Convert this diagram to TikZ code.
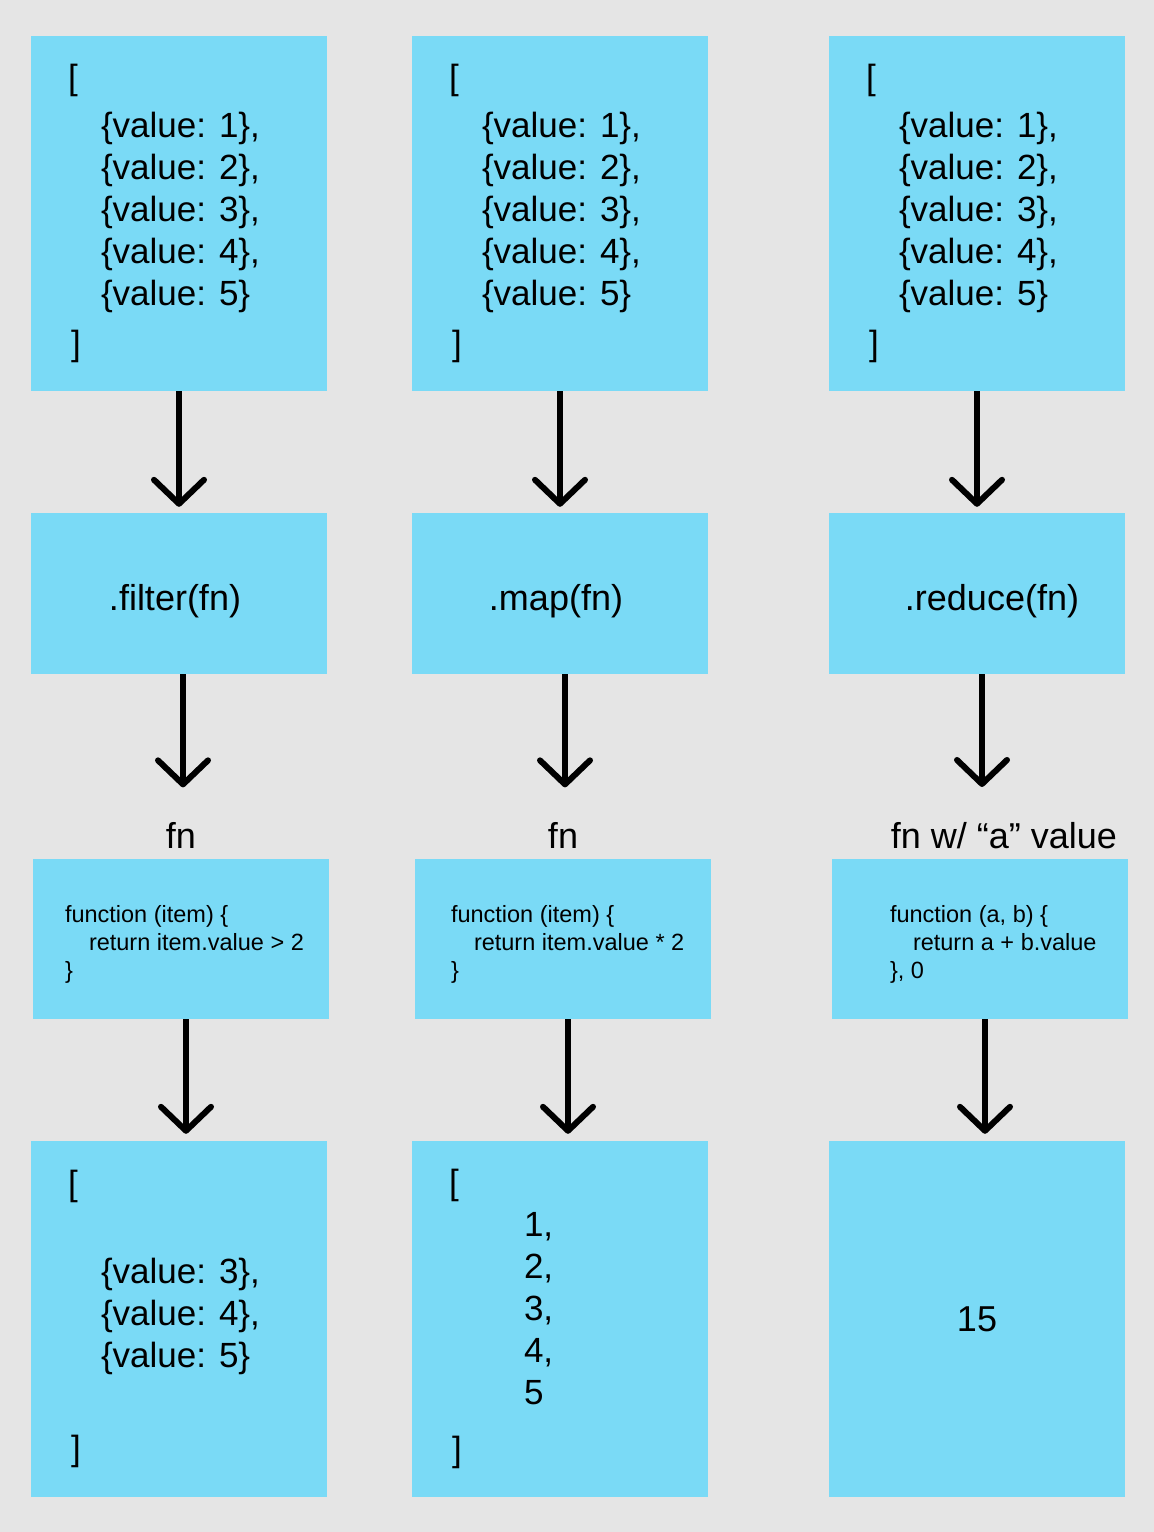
\documentclass[tikz,border=0pt]{standalone}
\usepackage{fontspec}
\setmainfont{Liberation Sans}
\usetikzlibrary{positioning,arrows.meta}

\definecolor{cyanbox}{RGB}{122,218,246}
\definecolor{bggray}{RGB}{229,229,229}

\newcommand{\bigtxt}{\fontsize{35}{42}\selectfont}
\newcommand{\labeltxt}{\fontsize{36}{42}\selectfont}
\newcommand{\codetxt}{\fontsize{23.5}{28}\selectfont}

\tikzset{
  box/.style={fill=cyanbox, minimum width=296pt, inner sep=0pt},
  listtext/.style={inner sep=0pt, align=left, font=\bigtxt},
  codetext/.style={inner sep=0pt, align=left, font=\codetxt},
  arr/.style={line width=6pt, -{Straight Barb[length=24pt,width=50pt,round]}},
}

\begin{document}
\begin{tikzpicture}[x=1pt, y=-1pt]
  \fill[bggray] (0,0) rectangle (1154,1532);
  \useasboundingbox (0,0) rectangle (1154,1532);

  % input arrays
  \node[box, minimum height=355pt] (in1) at (179,213.5) {};
  \node[box, minimum height=355pt] (in2) at (560,213.5) {};
  \node[box, minimum height=355pt] (in3) at (977,213.5) {};
  \foreach \i in {1,2,3}
    \node[listtext, right=37pt of in\i.west] (list\i) {[\\[6pt]
      \hspace*{33pt}\{value: 1\},\\
      \hspace*{33pt}\{value: 2\},\\
      \hspace*{33pt}\{value: 3\},\\
      \hspace*{33pt}\{value: 4\},\\
      \hspace*{33pt}\{value: 5\}\\[8pt]
      \hspace*{3pt}]};

  % array methods
  \node[box, minimum height=161pt, font=\labeltxt] (m1) at (179,593.5) {\raisebox{-17pt}[0pt][0pt]{.filter(fn)}\hspace*{8pt}};
  \node[box, minimum height=161pt, font=\labeltxt] (m2) at (560,593.5) {\raisebox{-17pt}[0pt][0pt]{.map(fn)}\hspace*{8pt}};
  \node[box, minimum height=161pt, font=\labeltxt] (m3) at (977,593.5) {\hspace*{30pt}\raisebox{-17pt}[0pt][0pt]{.reduce(fn)}};

  % callbacks
  \node[box, minimum height=160pt] (c1) at (181,939) {};
  \node[box, minimum height=160pt] (c2) at (563,939) {};
  \node[box, minimum height=160pt] (c3) at (980,939) {};
  \node[codetext, right=32pt of c1.west, yshift=-5pt] (code1) {function (item) \{\\
    \hspace*{24pt}return item.value > 2\\
    \}};
  \node[codetext, right=36pt of c2.west, yshift=-5pt] (code2) {function (item) \{\\
    \hspace*{23pt}return item.value * 2\\
    \}};
  \node[codetext, right=58pt of c3.west, yshift=-5pt] (code3) {function (a, b) \{\\
    \hspace*{23pt}return a + b.value\\
    \}, 0};
  \node[inner sep=0pt, font=\labeltxt, above=10pt of c1] (lbl1) {fn};
  \node[inner sep=0pt, font=\labeltxt, above=10pt of c2] (lbl2) {fn};
  \node[inner sep=0pt, font=\labeltxt, above=10pt of c3, xshift=24pt] (lbl3) {fn w/ “a” value};

  % results
  \node[box, minimum height=356pt] (out1) at (179,1319) {};
  \node[box, minimum height=356pt] (out2) at (560,1319) {};
  \node[box, minimum height=356pt, font=\labeltxt] (out3) at (977,1319) {15};
  \node[listtext, right=37pt of out1.west] (res1) {[\\[46pt]
    \hspace*{33pt}\{value: 3\},\\
    \hspace*{33pt}\{value: 4\},\\
    \hspace*{33pt}\{value: 5\}\\[51pt]
    \hspace*{3pt}]};
  \node[listtext, right=37pt of out2.west] (res2) {[\\
    \hspace*{75pt}1,\\
    \hspace*{75pt}2,\\
    \hspace*{75pt}3,\\
    \hspace*{75pt}4,\\
    \hspace*{75pt}5\\[15pt]
    \hspace*{3pt}]};

  % arrows
  \foreach \i in {1,2,3}
    \draw[arr, shorten >=6pt] (in\i.south) -- (m\i.north);
  \foreach \i/\dx in {1/4,2/5,3/5}
    \draw[arr, shorten >=35pt] ([xshift=\dx pt]m\i.south) -- ([xshift=\dx pt]m\i.south |- lbl\i.north);
  \foreach \i in {1,2,3}
    \draw[arr, shorten >=7pt] ([xshift=5pt]c\i.south) -- ([xshift=5pt]c\i.south |- out\i.north);
\end{tikzpicture}
\end{document}
